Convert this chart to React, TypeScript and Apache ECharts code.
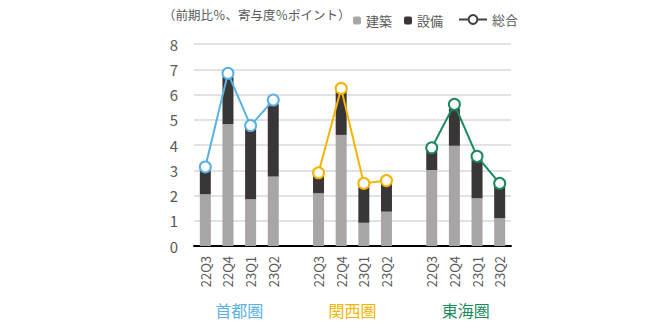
import React, { useEffect, useRef } from "react";
import * as echarts from "echarts";

const categories = [
  "22Q3", "22Q4", "23Q1", "23Q2", "",
  "22Q3", "22Q4", "23Q1", "23Q2", "",
  "22Q3", "22Q4", "23Q1", "23Q2",
];
const groupNames = ["首都圏", "関西圏", "東海圏"];
const groupColors = ["#5AB1E3", "#F5B400", "#1B8A5A"];
const groupStart = [0, 5, 10];
const kenchiku = [2.05, 4.83, 1.85, 2.75, null, 2.09, 4.4, 0.92, 1.36, null, 3.01, 3.97, 1.89, 1.1];
const setsubi = [0.93, 1.87, 2.81, 2.87, null, 0.68, 1.7, 1.43, 1.1, null, 0.76, 1.48, 1.52, 1.25];
const sogo = [3.13, 6.84, 4.77, 5.78, null, 2.9, 6.24, 2.48, 2.59, null, 3.89, 5.61, 3.55, 2.48];
const yTicks = [0, 1, 2, 3, 4, 5, 6, 7, 8];

const FONT = "'Noto Sans CJK JP', 'Noto Sans', sans-serif";

export default function App() {
  const ref = useRef<HTMLDivElement>(null);
  useEffect(() => {
    if (!ref.current) return;
    const chart = echarts.init(ref.current, undefined, { renderer: "svg" });
    const lineSeries = groupNames.map((g, gi) => ({
      name: "総合_" + g,
      type: "line",
      data: sogo.map((v, i) => (i >= groupStart[gi] && i < groupStart[gi] + 4 ? v : null)),
      connectNulls: false,
      symbol: "circle",
      symbolSize: 11,
      z: 5,
      lineStyle: { color: groupColors[gi], width: 2 },
      itemStyle: { color: "#fff", borderColor: groupColors[gi], borderWidth: 2 },
    }));
    chart.setOption({
      animation: false,
      textStyle: { fontFamily: FONT },
      grid: { left: 194, right: 152, top: 44, bottom: 83 },
      legend: [
        {
          data: ["建築", "設備"],
          left: 348,
          top: 9,
          itemWidth: 8,
          itemHeight: 8,
          itemGap: 12,
          selectedMode: false,
          textStyle: { fontSize: 13, color: "#595959", fontFamily: FONT },
        },
        {
          data: ["総合"],
          left: 453,
          top: 8,
          itemWidth: 28,
          itemHeight: 11,
          selectedMode: false,
          textStyle: { fontSize: 13, color: "#595959", fontFamily: FONT },
        },
      ],
      xAxis: {
        type: "category",
        data: categories,
        axisLine: { lineStyle: { color: "#000", width: 2 } },
        axisTick: { show: false },
        axisLabel: {
          rotate: 90,
          interval: 0,
          margin: 10,
          fontSize: 13,
          color: "#595959",
          fontFamily: FONT,
        },
      },
      yAxis: {
        type: "value",
        min: yTicks[0],
        max: yTicks[yTicks.length - 1],
        interval: 1,
        axisLine: { show: false },
        axisTick: { show: false },
        splitLine: { lineStyle: { color: "#D9D9D9", width: 1.5 } },
        axisLabel: { fontSize: 15, color: "#595959", margin: 16, fontFamily: FONT },
      },
      series: [
        {
          name: "建築",
          type: "bar",
          stack: "a",
          barWidth: 11,
          data: kenchiku,
          itemStyle: { color: "#A9A5A5" },
        },
        {
          name: "設備",
          type: "bar",
          stack: "a",
          barWidth: 11,
          data: setsubi,
          itemStyle: { color: "#3A3536" },
        },
        {
          name: "総合",
          type: "line",
          data: [],
          symbol: "circle",
          symbolSize: 10,
          lineStyle: { color: "#404040", width: 2 },
          itemStyle: { color: "#fff", borderColor: "#404040", borderWidth: 2 },
        },
        ...lineSeries,
      ],
    });
    const texts: any[] = [
      {
        type: "text",
        left: 163,
        top: 8,
        style: { text: "（前期比％、寄与度％ポイント）", fontSize: 12.5, fill: "#595959", fontFamily: FONT },
      },
    ];
    groupNames.forEach((g, gi) => {
      const x1 = chart.convertToPixel({ xAxisIndex: 0 }, groupStart[gi] + 1) as number;
      const x2 = chart.convertToPixel({ xAxisIndex: 0 }, groupStart[gi] + 2) as number;
      texts.push({
        type: "text",
        x: (x1 + x2) / 2,
        y: 310,
        style: {
          text: g,
          fontSize: 16,
          fill: groupColors[gi],
          fontFamily: FONT,
          align: "center",
          verticalAlign: "middle",
        },
      });
    });
    chart.setOption({ graphic: texts });
    return () => chart.dispose();
  }, []);
  return <div ref={ref} style={{ width: 663, height: 329, margin: -8 }} />;
}
